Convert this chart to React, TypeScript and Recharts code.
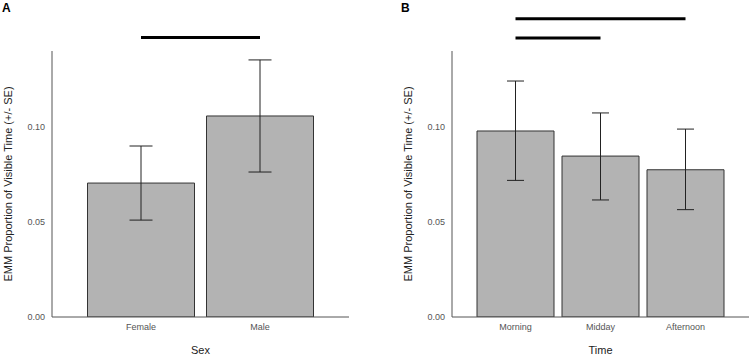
import React from 'react';
import { BarChart, Bar, XAxis, YAxis, ErrorBar, ReferenceLine } from 'recharts';

// Panel A: estimated marginal means by sex
const sexCategories = ['Female', 'Male'];
const sexMeans = [0.0705, 0.1058];
const sexLower = [0.051, 0.0763];
const sexUpper = [0.09, 0.1353];

// Panel B: estimated marginal means by time of day
const timeCategories = ['Morning', 'Midday', 'Afternoon'];
const timeMeans = [0.0979, 0.0847, 0.0775];
const timeLower = [0.0719, 0.0616, 0.0565];
const timeUpper = [0.1242, 0.1074, 0.0989];

const yTicks = [0, 0.05, 0.1];
const yDomain = [0, 0.14];

// Pairwise comparison brackets drawn above each panel
const sexBrackets = [{ from: 'Female', to: 'Male', level: 0.1471 }];
const timeBrackets = [
  { from: 'Morning', to: 'Afternoon', level: 0.157 },
  { from: 'Morning', to: 'Midday', level: 0.1468 },
];

const yTitle = 'EMM Proportion of Visible Time (+/- SE)';
const FONT = '"Liberation Sans", Arial, Helvetica, sans-serif';

const buildRows = (cats: string[], means: number[], lo: number[], hi: number[]) =>
  cats.map((c, i) => ({
    name: c,
    value: means[i],
    err: [means[i] - lo[i], hi[i] - means[i]],
  }));

const sexRows = buildRows(sexCategories, sexMeans, sexLower, sexUpper);
const timeRows = buildRows(timeCategories, timeMeans, timeLower, timeUpper);

type PanelProps = {
  rows: { name: string; value: number; err: number[] }[];
  brackets: { from: string; to: string; level: number }[];
  xTitle: string;
  yAxisWidth: number;
  marginRight: number;
  pad: number;
  barSize: number;
  capHalf: number;
};

const Panel = ({ rows, brackets, xTitle, yAxisWidth, marginRight, pad, barSize, capHalf }: PanelProps) => (
  <BarChart
    width={375}
    height={356}
    data={rows}
    margin={{ top: 51, right: marginRight, bottom: 0, left: 0 }}
    style={{ fontFamily: FONT }}
  >
    <XAxis
      dataKey="name"
      height={39}
      padding={{ left: pad, right: pad }}
      axisLine={{ stroke: '#555', strokeWidth: 1 }}
      tickLine={false}
      tickSize={0}
      tickMargin={7}
      tick={{ fontSize: 9, fill: '#555', fontFamily: FONT }}
      label={{
        content: (p: any) => {
          const vb = p.viewBox || {};
          return (
            <text
              x={vb.x + vb.width / 2}
              y={vb.y + 34}
              textAnchor="middle"
              dominantBaseline="middle"
              fontSize={11}
              fill="#222"
              fontFamily={FONT}
            >
              {xTitle}
            </text>
          );
        },
      }}
    />
    <YAxis
      width={yAxisWidth}
      domain={yDomain}
      ticks={yTicks}
      allowDataOverflow
      axisLine={{ stroke: '#555', strokeWidth: 1 }}
      tickLine={false}
      tickSize={0}
      tickMargin={7}
      tickFormatter={(v: number) => v.toFixed(2)}
      tick={{ fontSize: 9, fill: '#555', fontFamily: FONT }}
      label={{
        content: (p: any) => {
          const vb = p.viewBox || {};
          const cx = vb.x + vb.width - 43;
          const cy = vb.y + vb.height / 2;
          return (
            <text
              x={cx}
              y={cy}
              transform={`rotate(-90, ${cx}, ${cy})`}
              textAnchor="middle"
              dominantBaseline="middle"
              fontSize={11}
              fill="#222"
              fontFamily={FONT}
            >
              {yTitle}
            </text>
          );
        },
      }}
    />
    <Bar dataKey="value" fill="#b3b3b3" stroke="#333" strokeWidth={1} barSize={barSize} isAnimationActive={false}>
      <ErrorBar dataKey="err" width={capHalf} stroke="#222" strokeWidth={1} isAnimationActive={false} />
    </Bar>
    {brackets.map((b, i) => (
      <ReferenceLine
        key={i}
        segment={[
          { x: b.from, y: b.level },
          { x: b.to, y: b.level },
        ]}
        stroke="#000"
        strokeWidth={3}
        ifOverflow="visible"
      />
    ))}
  </BarChart>
);

const tagStyle: React.CSSProperties = {
  position: 'absolute',
  top: 1,
  fontFamily: FONT,
  fontWeight: 'bold',
  fontSize: 12,
  color: '#000',
  lineHeight: '14px',
};

export default function App() {
  return (
    <div style={{ position: 'absolute', left: 0, top: 0, width: 750, height: 356, background: '#fff' }}>
      <div style={{ position: 'absolute', left: 0, top: 0 }}>
        <Panel
          rows={sexRows}
          brackets={sexBrackets}
          xTitle="Sex"
          yAxisWidth={52}
          marginRight={26}
          pad={29.5}
          barSize={107}
          capHalf={11.5}
        />
      </div>
      <div style={{ position: 'absolute', left: 375, top: 0 }}>
        <Panel
          rows={timeRows}
          brackets={timeBrackets}
          xTitle="Time"
          yAxisWidth={77}
          marginRight={1}
          pad={21}
          barSize={77}
          capHalf={8.5}
        />
      </div>
      <div style={{ ...tagStyle, left: 2 }}>A</div>
      <div style={{ ...tagStyle, left: 401 }}>B</div>
    </div>
  );
}
